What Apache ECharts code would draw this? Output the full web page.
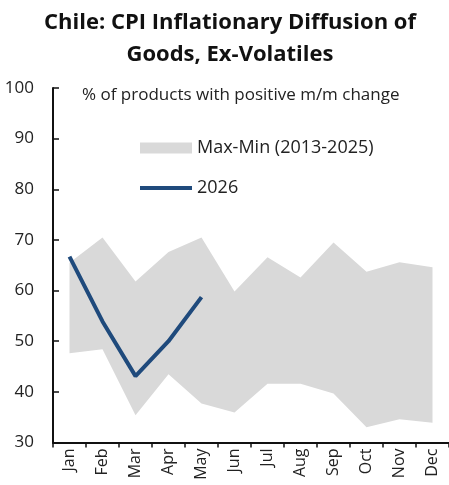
<!DOCTYPE html>
<html>
<head>
<meta charset="utf-8">
<script src="https://cdn.jsdelivr.net/npm/echarts@6/dist/echarts.min.js"></script>
<style>html,body{margin:0;padding:0;background:#fff}#c{width:449px;height:485px}</style>
</head>
<body>
<div id="c"></div>
<script>
var months = ['Jan','Feb','Mar','Apr','May','Jun','Jul','Aug','Sep','Oct','Nov','Dec'];
var bandMax = [65.5, 70.5, 61.8, 67.6, 70.5, 59.8, 66.6, 62.6, 69.5, 63.7, 65.6, 64.6];
var bandMin = [47.6, 48.4, 35.4, 43.5, 37.7, 35.9, 41.6, 41.6, 39.7, 33.0, 34.6, 33.9];
var y2026 = [66.7, 53.9, 43.1, 50.0, 58.7];
var yTicks = [30, 40, 50, 60, 70, 80, 90, 100];

var FONT = 'Open Sans';
var bandDiff = bandMax.map(function (v, i) { return +(v - bandMin[i]).toFixed(2); });

var chart = echarts.init(document.getElementById('c'), null, {renderer: 'canvas'});
chart.setOption({
  animation: false,
  title: [
    {
      text: 'Chile: CPI Inflationary Diffusion of\nGoods, Ex-Volatiles',
      left: 230, textAlign: 'center', top: 7, padding: 0,
      textStyle: {fontFamily: FONT, fontWeight: 'bold', fontSize: 22, lineHeight: 32, color: '#111'}
    },
    {
      text: '% of products with positive m/m change',
      left: 82, top: 87, padding: 0,
      textStyle: {fontFamily: FONT, fontWeight: 'normal', fontSize: 17, color: '#222'}
    }
  ],
  legend: [
    {
      data: [{name: 'Max-Min (2013-2025)', icon: 'rect'}],
      left: 140, top: 139, padding: 0, itemWidth: 52, itemHeight: 11, itemGap: 5,
      textStyle: {fontFamily: FONT, fontSize: 18, color: '#222'},
      selectedMode: false
    },
    {
      data: [{name: '2026', icon: 'rect'}],
      left: 140, top: 179, padding: 0, itemWidth: 52, itemHeight: 4, itemGap: 5,
      textStyle: {fontFamily: FONT, fontSize: 18, color: '#222'},
      selectedMode: false
    }
  ],
  grid: {left: 53, top: 88, width: 400, height: 354.5, containLabel: false},
  xAxis: {
    type: 'category',
    data: months,
    boundaryGap: true,
    axisLine: {lineStyle: {color: '#111', width: 2}},
    axisTick: {show: true, inside: false, length: 5, lineStyle: {color: '#111', width: 1.5}},
    axisLabel: {rotate: 90, fontFamily: FONT, fontSize: 16, color: '#222', margin: 6, interval: 0}
  },
  yAxis: {
    type: 'value',
    min: 30, max: 100, interval: 10,
    splitLine: {show: false},
    axisLine: {show: true, lineStyle: {color: '#111', width: 2}},
    axisTick: {show: true, inside: true, length: 6, lineStyle: {color: '#111', width: 1.5}},
    axisLabel: {fontFamily: FONT, fontSize: 17, color: '#222', margin: 19,
      customValues: yTicks}
  },
  series: [
    {
      name: 'base', type: 'line', data: bandMin, stack: 'band',
      symbol: 'none', lineStyle: {opacity: 0}, areaStyle: {opacity: 0},
      silent: true
    },
    {
      name: 'Max-Min (2013-2025)', type: 'line', data: bandDiff, stack: 'band',
      symbol: 'none', lineStyle: {opacity: 0, width: 0},
      itemStyle: {color: '#d9d9d9'},
      areaStyle: {color: '#d9d9d9', opacity: 1},
      silent: true
    },
    {
      name: '2026', type: 'line', data: y2026,
      symbol: 'none',
      itemStyle: {color: '#1f4a7c'},
      lineStyle: {color: '#1f4a7c', width: 4},
      z: 5
    }
  ]
});
</script>
</body>
</html>
